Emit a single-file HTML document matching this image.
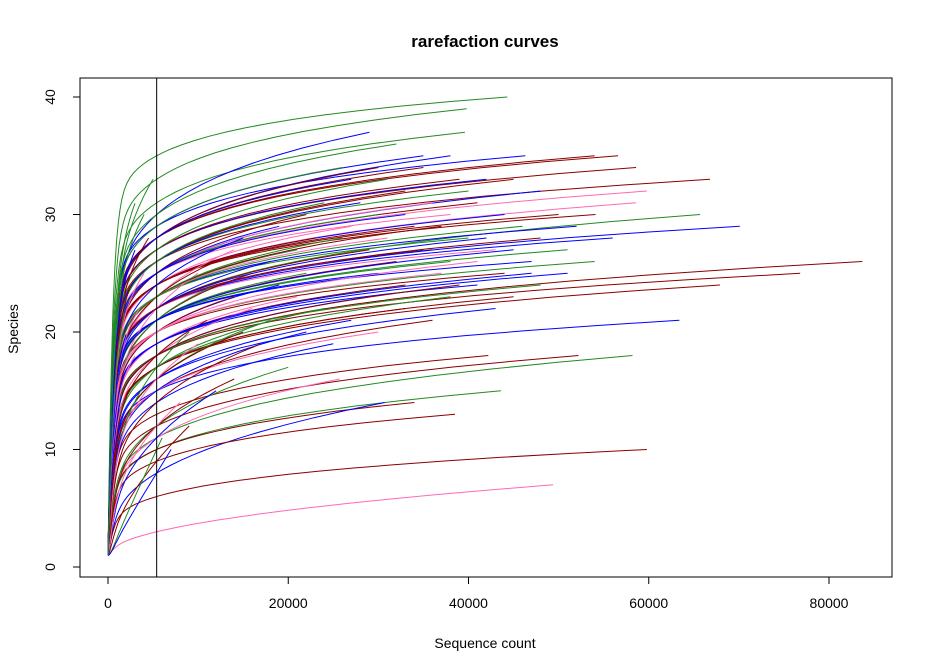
<!DOCTYPE html>
<html><head><meta charset="utf-8"><style>
html,body{margin:0;padding:0;background:#fff;}
svg{display:block;font-family:"Liberation Sans",Arial,sans-serif;}
</style></head><body>
<svg id="chart" width="933" height="672" viewBox="0 0 933 672">
<rect x="0" y="0" width="933" height="672" fill="#fff"/>
<text x="485" y="47" text-anchor="middle" font-size="17" font-weight="bold">rarefaction curves</text>
<text x="485" y="648" text-anchor="middle" font-size="14">Sequence count</text>
<text x="18" y="329" text-anchor="middle" font-size="14" transform="rotate(-90 18 329)">Species</text>
<g id="curves"></g>
<g id="axes"></g>
<rect x="80" y="78" width="812" height="499" fill="none" stroke="#000" stroke-width="1"/>
</svg>
<script>
const counts=[44300,39800,39600,29000,54000,56600,46300,58600,66800,59800,58600,54100,65700,70100,83700,76800,67900,63400,51000,42200,52200,58200,43600,34000,30700,38500,59800,49400,25700,
32000,35000,38000,30000,26000,42000,45000,40000,33000,48000,36000,28000,41000,24000,50000,44000,38000,30000,22000,52000,46000,34000,27000,19000,56000,48000,40000,31000,23000,15000,51000,43000,36000,29000,21000,14000,47000,38000,32000,25000,18000,12000,54000,44000,37000,30000,22000,16000,10000,48000,41000,33000,26000,19000,12000,45000,38000,29000,21000,14000,43000,33000,24000,16000,36000,27000,18000,11000,30000,22000,15000,9000,25000,17000,10000,20000,14000,12000,8000,9000,6000,7000,
35000,39000,27000,31000,33000,37000,42000,26000,35000,41000,45000,39000,47000,
4000,3000,5000,2500,3500,2000,4500,3000,1500,2000,4000,3000,2500,1800];
const species=[40,39,37,37,35,35,35,34,33,32,31,30,30,29,26,25,24,21,25,18,18,18,15,14,14,13,10,7,16,
36,35,35,34,34,33,33,32,32,32,31,31,31,31,30,30,30,30,30,29,29,29,29,29,28,28,28,28,28,28,27,27,27,27,27,27,26,26,26,26,26,26,26,25,25,25,25,25,25,24,24,24,24,24,24,23,23,23,23,23,22,22,22,22,21,21,21,21,20,20,20,20,19,19,19,17,16,15,14,12,11,10,
34,33,33,33,30,29,28,28,27,26,27,24,25,
30,27,33,24,22,20,28,18,15,13,25,31,26,22];
const speciesAtLine=[35,33,31,30,28,28,29,27,26,25,24,24,22,22,18,18,17,15,19,13,12,11,10,10,8,9,6,3,11,
30,29,28,28,29,27,26,26,26,25,25,26,25,26,24,24,25,25,25,23,23,24,24,25,22,22,23,23,24,24,21,22,22,22,23,23,21,21,21,22,22,23,20,20,20,21,21,21,22,18,19,19,20,20,21,17,17,18,19,20,16,17,17,18,15,16,16,18,15,15,16,17,14,14,16,12,12,11,12,9,10,8,
28,27,28,27,25,23,22,23,22,20,21,18,19,
30,27,33,24,22,20,28,18,15,13,25,31,26,22];
const colorIdx=[2,2,2,1,0,0,1,0,0,3,3,0,2,1,0,0,0,1,1,0,0,2,2,0,1,0,0,3,3,
2,1,1,0,2,1,0,2,0,1,3,1,0,2,0,1,3,2,0,1,2,0,3,1,1,0,2,3,0,1,2,3,1,0,2,3,1,2,0,3,1,0,2,0,3,1,2,0,3,2,1,0,3,1,2,0,2,1,3,0,1,0,2,3,0,1,2,0,3,1,0,2,1,0,3,2,0,1,3,0,2,1,
0,0,1,2,1,0,1,2,0,3,1,0,1,
2,1,2,0,3,1,0,3,1,0,3,2,1,2];
const palette=["#8B0000","#0000FF","#228B22","#FF69B4"];
const xTicks=[0,20000,40000,60000,80000];
const yTicks=[0,10,20,30,40];
const lineX=5400;

const NS="http://www.w3.org/2000/svg";
function xs(v){return 108+v/80000*721;}
function ys(v){return 567-v*11.75;}
const LREF=5400;
function curveVal(n,N,S,S5){
  let a;
  if(N<=LREF||S5<=1||S5>=S) a=0.2;
  else a=Math.log((S-1)/(S5-1))/Math.log(N/LREF);
  const base=(S-1)*Math.pow(n/N,a);
  return 1+base*(1-Math.exp(-n/450));
}
const cg=document.getElementById('curves');
for(let i=0;i<counts.length;i++){
  const N=counts[i],S=species[i],S5=speciesAtLine[i];
  let d="M"+xs(0).toFixed(1)+","+ys(1).toFixed(1);
  const steps=70;
  for(let k=1;k<=steps;k++){
    const n=Math.exp(Math.log(N)*k/steps);
    d+=" L"+xs(n).toFixed(1)+","+ys(curveVal(n,N,S,S5)).toFixed(1);
  }
  const p=document.createElementNS(NS,'path');
  p.setAttribute('d',d);
  p.setAttribute('fill','none');
  p.setAttribute('stroke',palette[colorIdx[i]]);
  p.setAttribute('stroke-width','1');
  
  
  cg.appendChild(p);
}
const ag=document.getElementById('axes');
const vl=document.createElementNS(NS,'line');
vl.setAttribute('x1',xs(lineX));vl.setAttribute('x2',xs(lineX));
vl.setAttribute('y1',78);vl.setAttribute('y2',577);
vl.setAttribute('stroke','#000');


ag.appendChild(vl);
xTicks.forEach(t=>{
  const l=document.createElementNS(NS,'line');
  l.setAttribute('x1',xs(t));l.setAttribute('x2',xs(t));
  l.setAttribute('y1',577);l.setAttribute('y2',584);l.setAttribute('stroke','#000');
  
  
  ag.appendChild(l);
  const tx=document.createElementNS(NS,'text');
  tx.setAttribute('x',xs(t));tx.setAttribute('y',608);
  tx.setAttribute('text-anchor','middle');tx.setAttribute('font-size','14');
  tx.textContent=t;
  
  
  ag.appendChild(tx);
});
yTicks.forEach(t=>{
  const l=document.createElementNS(NS,'line');
  l.setAttribute('x1',73);l.setAttribute('x2',80);
  l.setAttribute('y1',ys(t));l.setAttribute('y2',ys(t));l.setAttribute('stroke','#000');
  
  
  ag.appendChild(l);
  const tx=document.createElementNS(NS,'text');
  const yy=ys(t);
  tx.setAttribute('x',55);tx.setAttribute('y',yy);
  tx.setAttribute('text-anchor','middle');tx.setAttribute('font-size','14');
  tx.setAttribute('transform','rotate(-90 55 '+yy+')');
  tx.textContent=t;
  
  
  ag.appendChild(tx);
});
</script>
</body></html>
